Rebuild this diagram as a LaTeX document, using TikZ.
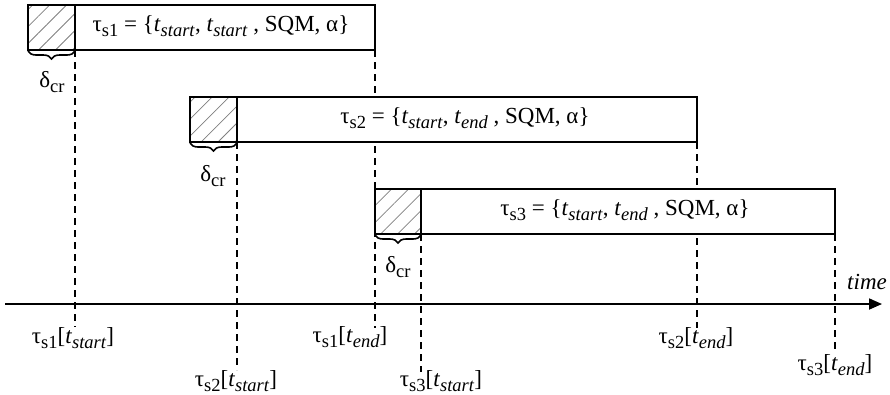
\documentclass[tikz,border=0pt]{standalone}
\usepackage{fontspec}
\setmainfont{Liberation Serif}
\usetikzlibrary{patterns.meta,decorations.pathreplacing,arrows.meta}

\newcommand{\lowsub}[1]{\raisebox{-.45ex}{\fontsize{18.5}{19}\selectfont #1}}
\newcommand{\tsub}[1]{\textit{t}\lowsub{\textit{#1}}}
\newcommand{\taus}[1]{τ\lowsub{s#1}}

\begin{document}
\begin{tikzpicture}
  [x=1pt,y=-1pt,
   taskB/.style={draw,line width=1.8pt,fill=white},
   hatchB/.style={draw,line width=1.8pt,
     pattern={Lines[angle=45,distance=12pt,line width=.8pt]},
     pattern color=gray},
   markL/.style={line width=1.8pt,dash pattern=on 7pt off 5pt},
   braceL/.style={decorate,decoration={brace,mirror,amplitude=8pt},
     line width=1.6pt},
   font=\fontsize{23}{26}\selectfont]

  \useasboundingbox (0,0) rectangle (890,394);

  % end points of the dashed markers
  \coordinate (m1a) at  (75,50);   \coordinate (m1b) at  (75,327);
  \coordinate (m2a) at (375,50);   \coordinate (m2b) at (375,328);
  \coordinate (m3a) at (237,142);  \coordinate (m3b) at (237,370);
  \coordinate (m4a) at (697,142);  \coordinate (m4b) at (697,328);
  \coordinate (m5a) at (421,234);  \coordinate (m5b) at (421,372);
  \coordinate (m6a) at (835,234);  \coordinate (m6b) at (835,352);

  \draw [markL] (m1a) -- (m1b);
  \draw [markL] (m2a) -- (m2b);
  \draw [markL] (m3a) -- (m3b);
  \draw [markL] (m4a) -- (m4b);
  \draw [markL] (m5a) -- (m5b);
  \draw [markL] (m6a) -- (m6b);

  % tasks
  \draw [taskB] (28,5) rectangle (375,50);
  \draw [hatchB] (28,5) rectangle (75,50);
  \node (t1) at (221,26) {\taus{1} = \{\tsub{start}, \tsub{start} , SQM, α\}};

  \draw [taskB] (190,97) rectangle (697,142);
  \draw [hatchB] (190,97) rectangle (237,142);
  \node (t2) at (465,118) {\taus{2} = \{\tsub{start}, \tsub{end} , SQM, α\}};

  \draw [taskB] (375,189) rectangle (835,234);
  \draw [hatchB] (375,189) rectangle (421,234);
  \node (t3) at (625,210) {\taus{3} = \{\tsub{start}, \tsub{end} , SQM, α\}};

  % critical delays
  \draw [braceL] (28,51) -- (75,51);
  \draw [braceL] (190,143) -- (237,143);
  \draw [braceL] (375,235) -- (421,235);
  \node (d1) at  (52,82)  {δ\lowsub{cr}};
  \node (d2) at (213,176) {δ\lowsub{cr}};
  \node (d3) at (398,267) {δ\lowsub{cr}};

  % time axis
  \coordinate (ax0) at (5,304);
  \coordinate (ax1) at (882,304);
  \draw [line width=1.8pt,-{Triangle[length=13pt,width=11pt]}] (ax0) -- (ax1);
  \node (tm) at (867,282) {\textit{time}};

  \node (l1) at  (73,338) {\taus{1}[\tsub{start}]};
  \node (l2) at (350,337) {\taus{1}[\tsub{end}]};
  \node (l3) at (236,381) {\taus{2}[\tsub{start}]};
  \node (l4) at (696,338) {\taus{2}[\tsub{end}]};
  \node (l5) at (441,381) {\taus{3}[\tsub{start}]};
  \node (l6) at (835,365) {\taus{3}[\tsub{end}]};
\end{tikzpicture}
\end{document}
